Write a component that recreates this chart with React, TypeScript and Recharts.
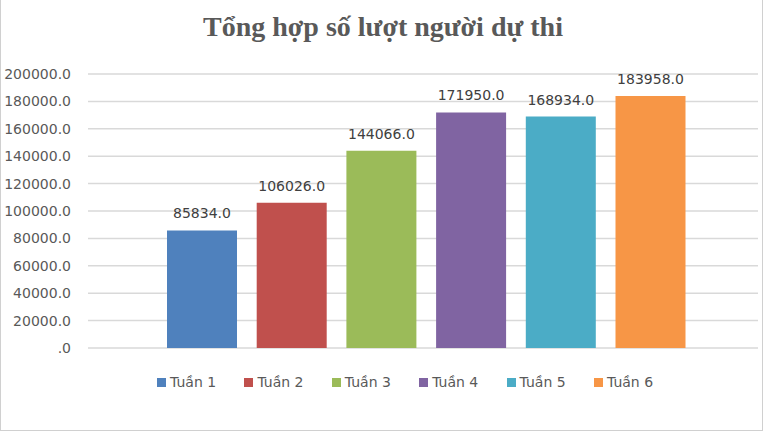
import React from "react";
import { BarChart, Bar, XAxis, YAxis, CartesianGrid, LabelList } from "recharts";

const weeks = ["Tuần 1", "Tuần 2", "Tuần 3", "Tuần 4", "Tuần 5", "Tuần 6"];
const participants = [85834, 106026, 144066, 171950, 168934, 183958];
const weekColors = ["#4F81BD", "#C0504D", "#9BBB59", "#8064A2", "#4BACC6", "#F79646"];
const yTicks = [0, 20000, 40000, 60000, 80000, 100000, 120000, 140000, 160000, 180000, 200000];

const keys = weeks.map((_, i) => "w" + (i + 1));
const row: Record<string, number | string> = { name: "" };
keys.forEach((k, i) => {
    row[k] = participants[i];
});
const data = [row];

const FONT = "'DejaVu Sans', sans-serif";

const fmt = (v: number) => (v === 0 ? ".0" : v.toFixed(1));

// legend drawn outside the chart so it doesn't eat plot space
const LegendRow = () => (
    <div
        style={{
            position: "absolute", left: 157, top: 374, display: "flex",
            fontFamily: FONT, fontSize: 14, color: "#595959",
        }}
    >
        {weeks.map((w, i) => (
            <div key={w} style={{ display: "flex", alignItems: "center", width: 87.4 }}>
                <span style={{ width: 9, height: 9, background: weekColors[i], marginRight: 4 }} />
                <span>{w}</span>
            </div>
        ))}
    </div>
);

export default function App() {
    return (
        <div style={{ position: "absolute", left: 0, top: 0, width: 766, height: 433, background: "#fff" }}>
            <div
                style={{
                    position: "absolute", left: 0, top: 0, width: 761, height: 430,
                    borderLeft: "1px solid #D0D0D0", borderRight: "1px solid #D0D0D0", borderBottom: "1px solid #D0D0D0",
                }}
            />
            <div
                style={{
                    position: "absolute", left: 0, top: 11, width: 766, textAlign: "center",
                    fontFamily: "'Liberation Serif', serif", fontWeight: "bold", fontSize: 28, color: "#595959",
                }}
            >
                Tổng hợp số lượt người dự thi
            </div>
            <BarChart
                width={766}
                height={433}
                data={data}
                margin={{ top: 74, right: 8, left: 0, bottom: 85 }}
                barGap={19.7}
                style={{ position: "absolute", left: 0, top: 0 }}
            >
                <CartesianGrid vertical={false} stroke="#D9D9D9" strokeWidth={1.5} />
                <XAxis dataKey="name" hide padding={{ left: 6, right: 0 }} />
                <YAxis
                    width={88}
                    domain={[0, 200000]}
                    ticks={yTicks}
                    tickFormatter={fmt}
                    axisLine={false}
                    tickLine={false}
                    tickSize={0}
                    tickMargin={17}
                    tick={{ fill: "#595959", fontSize: 14, fontFamily: FONT }}
                />
                {keys.map((k, i) => (
                    <Bar key={k} dataKey={k} name={weeks[i]} fill={weekColors[i]} barSize={70} isAnimationActive={false}>
                        <LabelList
                            dataKey={k}
                            position="top"
                            offset={12}
                            formatter={(v: number) => fmt(v)}
                            style={{ fill: "#404040", fontSize: 14, fontFamily: FONT }}
                        />
                    </Bar>
                ))}
            </BarChart>
            <LegendRow />
        </div>
    );
}
